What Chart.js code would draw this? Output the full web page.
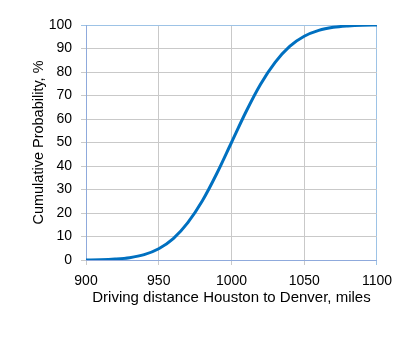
<!DOCTYPE html>
<html>
<head>
<meta charset="utf-8">
<script src="https://cdn.jsdelivr.net/npm/chart.js@4/dist/chart.umd.min.js"></script>
<style>
  html, body { margin: 0; padding: 0; background: #fff; }
  #wrap { width: 400px; height: 337px; position: relative; }
</style>
</head>
<body>
<div id="wrap"><canvas id="cdfChart" width="400" height="337"></canvas></div>
<script>
// driving distance, miles
const distances = [900, 910, 920, 930, 940, 950, 960, 970, 980, 990, 1000,
  1010, 1020, 1030, 1040, 1050, 1060, 1070, 1080, 1090, 1100];
// cumulative probability, %
const cumProb = [0, 0.1, 0.4, 1.0, 2.3, 4.8, 9.1, 15.9, 25.2, 36.9, 50,
  63.1, 74.8, 84.1, 90.9, 95.2, 97.7, 99.0, 99.6, 99.9, 100];
const xTicks = [900, 950, 1000, 1050, 1100];
const yTicks = [0, 10, 20, 30, 40, 50, 60, 70, 80, 90, 100];

const gridGray = "#c9c9c9";
const frameBlue = "#9dc3e6";
const axisBlue = "#8faadc";
const family = "'Liberation Sans', Arial, sans-serif";
const tickFont = { family: family, size: 14 };

const points = distances.map((d, i) => ({ x: d, y: cumProb[i] }));

const ctx = document.getElementById("cdfChart").getContext("2d");

const cdfChart = new Chart(ctx, {
  type: "line",
  data: {
    datasets: [{
      data: points,
      borderColor: "#0070c0",
      borderWidth: 3,
      pointRadius: 0,
      fill: false,
      cubicInterpolationMode: "monotone"
    }]
  },
  options: {
    responsive: false,
    animation: false,
    layout: { padding: { left: 0, top: 25, right: 23, bottom: 0 } },
    plugins: { legend: { display: false }, tooltip: { enabled: false } },
    scales: {
      x: {
        type: "linear",
        min: 900,
        max: 1100,
        afterBuildTicks: s => { s.ticks = xTicks.map(v => ({ value: v })); },
        afterFit: s => { s.height = 77; },
        grid: {
          color: c => (c.tick && c.tick.value === 1100 ? frameBlue : gridGray),
          lineWidth: 1,
          tickLength: 5
        },
        border: { color: axisBlue, width: 1 },
        ticks: {
          color: "#000",
          font: tickFont,
          padding: 8,
          maxRotation: 0,
          callback: v => String(v)
        },
        title: {
          display: true,
          text: "Driving distance Houston to Denver, miles",
          color: "#000",
          font: { family: family, size: 15 },
          padding: { top: 0, bottom: 30 }
        }
      },
      y: {
        min: 0,
        max: 100,
        afterBuildTicks: s => { s.ticks = yTicks.map(v => ({ value: v })); },
        afterFit: s => { s.width = 86; },
        grid: {
          color: c => (c.tick && c.tick.value === 100 ? frameBlue : gridGray),
          lineWidth: 1,
          tickLength: 5
        },
        border: { color: axisBlue, width: 1 },
        ticks: { color: "#000", font: tickFont, padding: 9 },
        title: {
          display: true,
          text: "Cumulative Probability, %",
          color: "#000",
          font: { family: family, size: 14.5 },
          padding: { top: 30, bottom: 0 }
        }
      }
    }
  }
});
</script>
</body>
</html>
